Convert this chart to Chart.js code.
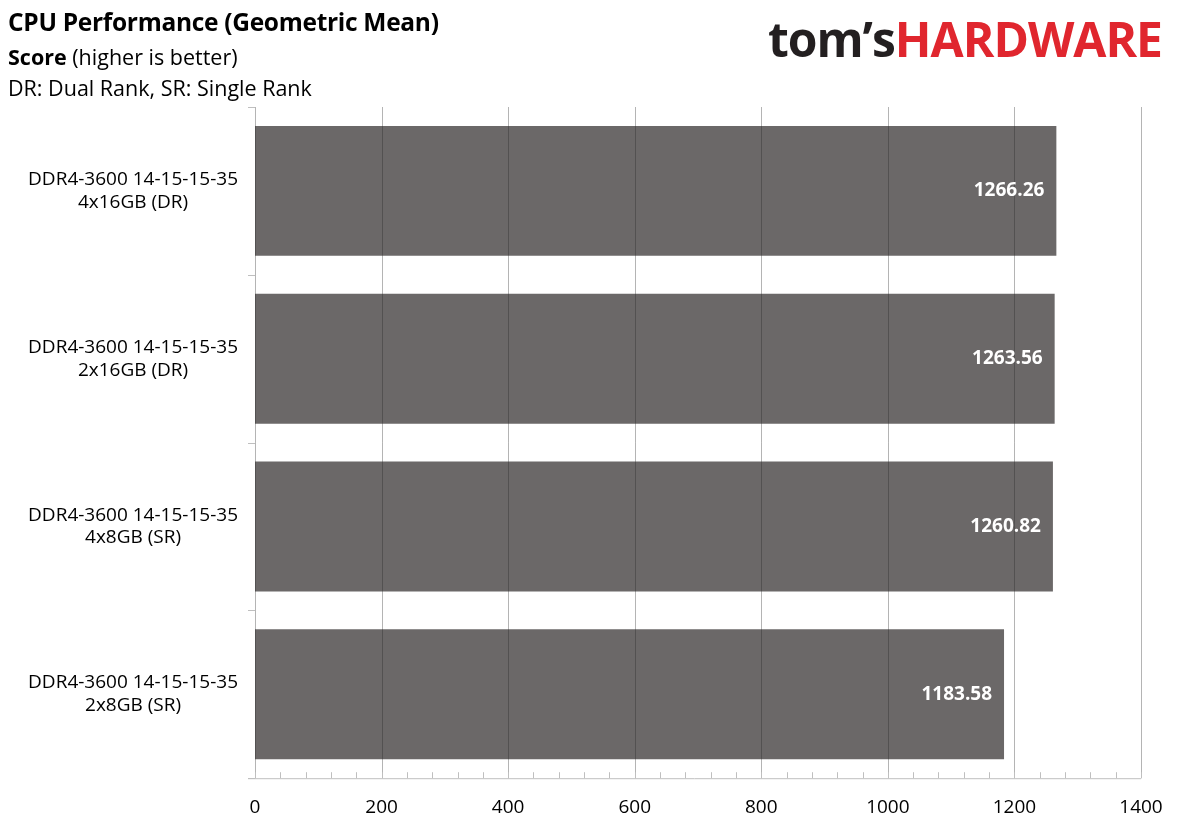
<!DOCTYPE html>
<html><head><meta charset="utf-8">
<script src="https://cdn.jsdelivr.net/npm/chart.js@4"></script>
<style>
html,body{margin:0;padding:0;background:#fff;}
#wrap{position:relative;width:1178px;height:832px;}
.t{position:absolute;left:8px;font-family:"Open Sans",sans-serif;color:#000;white-space:nowrap;}
#logo{position:absolute;right:16px;top:6px;font-family:"Open Sans",sans-serif;font-weight:700;font-size:48px;letter-spacing:-1px;}
</style></head><body>
<div id="wrap">
<canvas id="c" width="1178" height="832"></canvas>
<div class="t" style="top:5px;font-size:24.5px;font-weight:700;letter-spacing:-0.3px;">CPU Performance (Geometric Mean)</div>
<div class="t" style="top:42px;font-size:21.5px;"><b>Score</b> (higher is better)</div>
<div class="t" style="top:73px;font-size:21.5px;">DR: Dual Rank, SR: Single Rank</div>
<div id="logo"><span style="color:#231f20">tom’s</span><span style="color:#e0262e">HARDWARE</span></div>
</div>
<script>
const categories=[["DDR4-3600 14-15-15-35","4x16GB (DR)"],["DDR4-3600 14-15-15-35","2x16GB (DR)"],["DDR4-3600 14-15-15-35","4x8GB (SR)"],["DDR4-3600 14-15-15-35","2x8GB (SR)"]];
const scores=[1266.26,1263.56,1260.82,1183.58];
const xTicks=[0,200,400,600,800,1000,1200,1400];

const overlay={id:'overlay',afterDatasetsDraw(ch){
  const c=ch.ctx,x=ch.scales.x,y=ch.scales.y,a=ch.chartArea;
  c.save();c.lineWidth=1;
  xTicks.forEach(v=>{const px=Math.round(x.getPixelForValue(v))+0.5;
    c.strokeStyle='rgba(40,40,40,0.35)';c.beginPath();c.moveTo(px,a.top);c.lineTo(px,a.bottom);c.stroke();});
  c.strokeStyle='#bfbfbf';
  c.beginPath();c.moveTo(248,a.bottom+0.5);c.lineTo(a.right,a.bottom+0.5);c.stroke();
  for(let v=0;v<=1400;v+=40){const px=Math.round(x.getPixelForValue(v))+0.5;
    c.beginPath();c.moveTo(px,a.bottom);c.lineTo(px,a.bottom-6);c.stroke();}
  const step=(a.bottom-a.top)/categories.length;
  for(let i=0;i<=categories.length;i++){const py=Math.round(a.top+i*step)+0.5;
    c.beginPath();c.moveTo(248,py);c.lineTo(a.left,py);c.stroke();}
  c.fillStyle='#fff';c.font='bold 19px "Open Sans", sans-serif';c.textAlign='right';c.textBaseline='middle';
  const meta=ch.getDatasetMeta(0);
  meta.data.forEach((b,i)=>{c.fillText(scores[i].toFixed(2),b.x-12,b.y);});
  c.restore();
}};

new Chart(document.getElementById('c'),{
  type:'bar',
  data:{labels:categories,datasets:[{data:scores,backgroundColor:'#6b6868',barPercentage:0.774,categoryPercentage:1}]},
  options:{indexAxis:'y',responsive:false,animation:false,
    layout:{padding:{top:107,right:37,bottom:3,left:0}},
    plugins:{legend:{display:false},tooltip:{enabled:false}},
    scales:{
      x:{min:0,max:1400,afterBuildTicks(s){s.ticks=xTicks.map(v=>({value:v}));},
        grid:{display:false},border:{display:false},
        ticks:{color:'#000',font:{family:'"Open Sans", sans-serif',size:19},padding:10,callback:v=>String(v)}},
      y:{grid:{display:false},border:{display:false},afterFit(s){s.width=255;},
        ticks:{color:'#000',font:{family:'"Open Sans", sans-serif',size:19},padding:9,lineHeight:1.4,crossAlign:'center'}}
    }},
  plugins:[overlay]
});
</script>
</body></html>
